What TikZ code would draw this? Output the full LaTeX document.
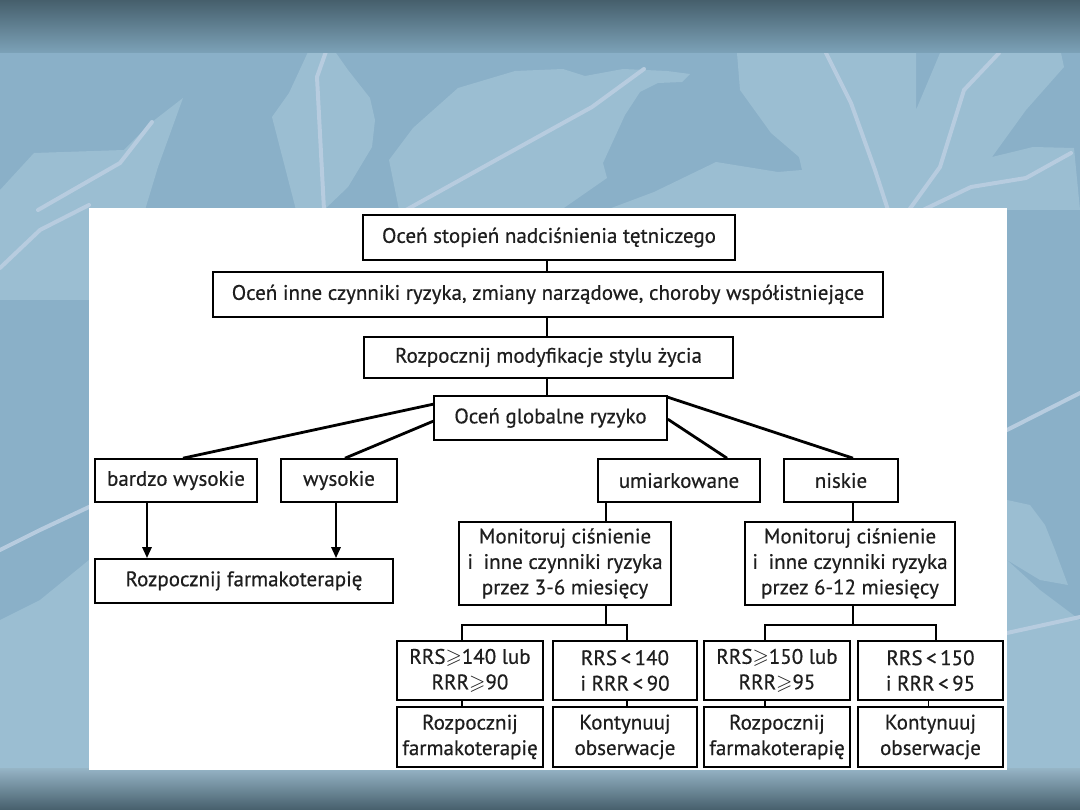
\documentclass[tikz,border=0pt]{standalone}
\usepackage{amssymb}
\usepackage{fontspec}
\setmainfont{PT Sans}[FakeBold=0.5]
\usetikzlibrary{arrows.meta}
\definecolor{bgbase}{HTML}{8AB0C8}
\definecolor{leaf}{HTML}{9BBED2}
\definecolor{vein}{HTML}{B7CCDF}
\definecolor{bandtop}{HTML}{465F6C}
\definecolor{bandbot}{HTML}{7CA2B8}
\definecolor{txt}{HTML}{1E1E1E}
\tikzset{
  box/.style={draw=black, line width=1.6pt, fill=white, align=center, inner sep=0pt,
    text=txt, font=\fontsize{21}{25.5}\selectfont},
  conn/.style={draw=black, line width=1.6pt},
  diag/.style={draw=black, line width=2.8pt},
  arr/.style={draw=black, line width=2.6pt, -{Triangle[length=11pt,width=9pt]}},
  leafsh/.style={fill=leaf},
  veinsh/.style={draw=vein, line width=4pt, line cap=round}
}
\begin{document}
\begin{tikzpicture}[x=1pt,y=-1pt]
\useasboundingbox (0,0) rectangle (1080,810);
% background
\fill[bgbase] (0,0) rectangle (1080,810);
% leaves
\fill[leafsh] (308,52) -- (329,43) -- (348,70) -- (370,98) -- (375,120) -- (372,147) -- (348,187) -- (324,210) -- (296,210) -- (272,117) -- (289,93) -- cycle;
\fill[leafsh] (458,88) -- (515,71) -- (563,69) -- (585,76) -- (623,69) -- (667,71) -- (690,74) -- (682,82) -- (658,83) -- (640,92) -- (625,115) -- (603,163) -- (607,178) -- (561,210) -- (399,210) -- (389,160) -- (413,128) -- cycle;
\fill[leafsh] (34,153) -- (124,150) -- (152,122) -- (183,98) -- (158,167) -- (145,210) -- (0,210) -- (0,190) -- cycle;
\fill[leafsh] (737,53) -- (916,53) -- (916,110) -- (940,53) -- (1061,53) -- (1064,67) -- (1026,110) -- (992,157) -- (1033,147) -- (1074,148) -- (1080,210) -- (606,210) -- (654,192) -- (716,162) -- (778,172) -- (802,170) -- (799,157) -- (771,133) -- (740,90) -- cycle;
\fill[leafsh] (0,210) -- (89,203) -- (89,300) -- (0,300) -- cycle;
\fill[leafsh] (0,620) -- (40,600) -- (89,560) -- (89,770) -- (0,770) -- cycle;
\fill[leafsh] (1007,560) -- (1040,590) -- (1080,620) -- (1080,770) -- (1007,770) -- cycle;
\fill[leafsh] (1007,500) -- (1030,505) -- (1045,525) -- (1055,550) -- (1068,585) -- (1040,580) -- (1007,560) -- cycle;
% veins
\draw[veinsh] (329,43) -- (317,77) -- (324,210);
\draw[veinsh] (644,69) -- (592,107) -- (496,160) -- (406,210);
\draw[veinsh] (152,122) -- (120,163) -- (38,210);
\draw[veinsh] (826,53) -- (851,103) -- (875,170) -- (888,210);
\draw[veinsh] (999,53) -- (964,90) -- (940,167) -- (909,210);
\draw[veinsh] (1071,153) -- (1026,178) -- (971,187) -- (923,210);
\draw[veinsh] (0,268) -- (40,230) -- (89,205);
\draw[veinsh] (0,550) -- (40,530) -- (89,507);
\draw[veinsh] (1007,430) -- (1080,393);
\draw[veinsh] (1007,633) -- (1080,617);
% top and bottom bands
\shade[top color=bandtop, bottom color=bandbot] (0,0) rectangle (1080,53);
\shade[top color=bandbot!80!white, bottom color=bandtop] (0,768) rectangle (1080,810);
% white panel
\fill[white] (89,208) rectangle (1007,770);

% nodes
\node[box, minimum width=372, minimum height=45] (b1) at (549,237.5) {Oceń stopień nadciśnienia tętniczego};
\node[box, minimum width=670, minimum height=45] (b2) at (548,294.5) {Oceń inne czynniki ryzyka, zmiany narządowe, choroby współistniejące};
\node[box, minimum width=369, minimum height=41] (b3) at (548.5,357.5) {Rozpocznij modyfikacje stylu życia};
\node[box, minimum width=233, minimum height=44] (b4) at (550.5,418) {Oceń globalne ryzyko};
\node[box, minimum width=162, minimum height=43] (bw) at (176,480.5) {bardzo wysokie};
\node[box, minimum width=116, minimum height=43] (wy) at (339,480.5) {wysokie};
\node[box, minimum width=162, minimum height=43] (um) at (679,480.5) {umiarkowane};
\node[box, minimum width=114, minimum height=43] (ni) at (841,480.5) {niskie};
\node[box, minimum width=298, minimum height=44] (rf) at (244,581) {Rozpocznij farmakoterapię};
\node[box, minimum width=212, minimum height=83] (m1) at (565,563.5) {Monitoruj ciśnienie\\i\enspace inne czynniki ryzyka\\przez 3-6 miesięcy};
\node[box, minimum width=210, minimum height=83] (m2) at (850,563.5) {Monitoruj ciśnienie\\i\enspace inne czynniki ryzyka\\przez 6-12 miesięcy};
\node[box, minimum width=146, minimum height=59] (a1) at (470,670.5) {RRS$\geqslant$140 lub\\RRR$\geqslant$90};
\node[box, minimum width=144, minimum height=59] (c1) at (625,670.5) {RRS\,<\,140\\i RRR\,<\,90};
\node[box, minimum width=146, minimum height=59] (e1) at (777,670.5) {RRS$\geqslant$150 lub\\RRR$\geqslant$95};
\node[box, minimum width=145, minimum height=59] (g1) at (930.5,670.5) {RRS\,<\,150\\i RRR\,<\,95};
\node[box, minimum width=146, minimum height=60] (a2) at (470,737) {Rozpocznij\\farmakoterapię};
\node[box, minimum width=144, minimum height=60] (c2) at (625,737) {Kontynuuj\\obserwacje};
\node[box, minimum width=146, minimum height=60] (e2) at (777,737) {Rozpocznij\\farmakoterapię};
\node[box, minimum width=145, minimum height=60] (g2) at (930.5,737) {Kontynuuj\\obserwacje};

% connectors top
\coordinate (vx) at (547,0);
\draw[conn] (b1.south -| vx) -- (b2.north -| vx);
\draw[conn] (b2.south -| vx) -- (b3.north -| vx);
\draw[conn] (b3.south -| vx) -- (b4.north -| vx);
% diagonals
\draw[diag] ([yshift=-9pt]b4.north west) -- ([xshift=7pt]bw.north);
\draw[diag] ([yshift=-26pt]b4.north west) -- ([xshift=6pt]wy.north);
\draw[diag] ([yshift=-2pt]b4.north east) -- ([xshift=12pt]ni.north);
\draw[diag] ([yshift=-24pt]b4.north east) -- ([xshift=48pt]um.north);
% arrows
\draw[arr] ([xshift=-29pt]bw.south) -- ([xshift=-29pt]bw.south |- rf.north);
\draw[arr] ([xshift=-3pt]wy.south) -- ([xshift=-3pt]wy.south |- rf.north);
% monitor connectors
\draw[conn] ([xshift=-73pt]um.south) -- ([xshift=-73pt]um.south |- m1.north);
\draw[conn] ([xshift=12pt]ni.south) -- ([xshift=12pt]ni.south |- m2.north);
\coordinate (jl) at (606,625);
\coordinate (jr) at (853,625);
\draw[conn] (m1.south -| jl) -- (jl);
\draw[conn] (m2.south -| jr) -- (jr);
\draw[conn] ([xshift=-8pt]a1.north) |- (jl) -| ([xshift=2pt]c1.north);
\draw[conn] ([xshift=-12pt]e1.north) |- (jr) -| ([xshift=5.5pt]g1.north);
% row connectors
\draw[conn] ([xshift=-8pt]a1.south) -- ([xshift=-8pt]a2.north);
\draw[conn] ([xshift=2pt]c1.south) -- ([xshift=2pt]c2.north);
\draw[conn] ([xshift=-12pt]e1.south) -- ([xshift=-12pt]e2.north);
\draw[conn] ([xshift=-2pt]g1.south) -- ([xshift=-2pt]g2.north);
\end{tikzpicture}
\end{document}
